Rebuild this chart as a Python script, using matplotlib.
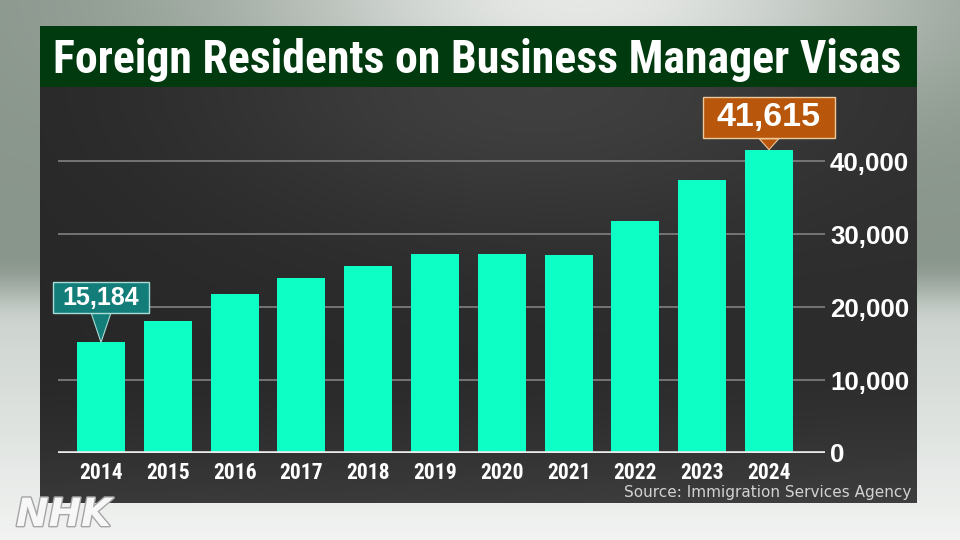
import numpy as np
import matplotlib
matplotlib.use("Agg")
import matplotlib.pyplot as plt
from matplotlib import font_manager as fm
from matplotlib.path import Path
import matplotlib.patheffects as pe

# ---------------- data ----------------
years = ["2014", "2015", "2016", "2017", "2018", "2019", "2020", "2021", "2022", "2023", "2024"]
residents = [15184, 18109, 21877, 24033, 25670, 27249, 27235, 27197, 31808, 37510, 41615]
y_ticks = [0, 10000, 20000, 30000, 40000]
callout_years = ["2014", "2024"]
title = "Foreign Residents on Business Manager Visas"
source = "Source: Immigration Services Agency"

# ---------------- fonts ----------------
names = {f.name for f in fm.fontManager.ttflist}


def pick(cands, default):
    for c in cands:
        if c in names:
            return c
    return default


BOLD = pick(["Liberation Sans", "Arimo"], "DejaVu Sans")
COND = pick(["Roboto Condensed", "Archivo Narrow", "Liberation Sans Narrow", "Barlow Condensed"], BOLD)

W, H = 960, 540
def fx(px): return px / W
def fy(py): return 1 - py / H

fig = plt.figure(figsize=(9.6, 5.4), dpi=100)

# ---------------- studio background ----------------
yy, xx = np.mgrid[0:H, 0:W].astype(float)
c_dark = np.array([0.54, 0.59, 0.55])
c_glow = np.array([0.90, 0.91, 0.90])
glow = np.exp(-((xx - 580) / 330) ** 2) * np.exp(-(yy / 110) ** 2)
upper = c_dark + (c_glow - c_dark) * glow[..., None]
c_floor = np.array([0.78, 0.81, 0.79])
c_bottom = np.array([0.95, 0.955, 0.95])
tb = np.clip((yy - 280) / 260, 0, 1)
lower = c_floor + (c_bottom - c_floor) * tb[..., None]
s = np.clip((yy - 255) / 70, 0, 1)
s = s * s * (3 - 2 * s)
img = upper * (1 - s[..., None]) + lower * s[..., None]
bg_ax = fig.add_axes([0, 0, 1, 1], zorder=0)
bg_ax.imshow(np.clip(img, 0, 1), aspect="auto", extent=[0, W, H, 0], interpolation="bilinear")
bg_ax.set_axis_off()

# ---------------- dark panel ----------------
px0, px1, py0, py1 = 40, 917, 87, 503
pw, ph = px1 - px0, py1 - py0
gy, gx = np.mgrid[0:ph, 0:pw].astype(float)
gx /= pw
gy /= ph
lum = (0.155
       + 0.085 * np.exp(-((gx - 0.55) / 0.38) ** 2 - (gy / 0.35) ** 2)
       + 0.07 * np.clip((gy - 0.65) / 0.35, 0, 1) ** 1.5
       + 0.02 * gx)
panel = np.dstack([lum, lum, lum])
panel_ax = fig.add_axes([fx(px0), fy(py1), pw / W, ph / H], zorder=1)
panel_ax.imshow(np.clip(panel, 0, 1), aspect="auto", interpolation="bilinear")
panel_ax.set_axis_off()

# ---------------- title banner ----------------
banner_ax = fig.add_axes([fx(40), fy(87), (917 - 40) / W, (87 - 26) / H], zorder=2)
banner_ax.set_facecolor("#013a0f")
banner_ax.set_xticks([]); banner_ax.set_yticks([])
for sp in banner_ax.spines.values():
    sp.set_visible(False)

t_title = fig.text(fx(477), fy(73), title, ha="center", va="baseline", color="white",
                   fontsize=32, fontweight="bold", family=COND, zorder=10)

# ---------------- main chart ----------------
ax = fig.add_axes([fx(58), fy(453), 767 / W, 328 / H], zorder=3)
ax.set_facecolor("none")
x = np.arange(len(years))
ax.bar(x, residents, width=0.72, color="#0effc6", zorder=3)
ax.set_xlim(-0.644, 10.838)
ax.set_ylim(0, 45000)

ax.set_yticks(y_ticks)
ax.set_yticklabels([f"{v:,}" for v in y_ticks], family=BOLD, fontweight="bold")
ax.yaxis.tick_right()
ax.tick_params(axis="y", length=0, pad=3.6, labelsize=18.6, labelcolor="white")

ax.set_xticks(x)
ax.set_xticklabels(years, family=COND, fontweight="bold")
ax.tick_params(axis="x", length=0, pad=6.3, labelsize=15.5, labelcolor="white")

ax.grid(axis="y", color="#7a7a7a", lw=1.3, zorder=1)
ax.grid(axis="x", visible=False)
ax.set_axisbelow(True)
ax.axhline(0, color="#ececec", lw=2.6, zorder=4)
for sp in ax.spines.values():
    sp.set_visible(False)


def make_box(padx, pady):
    def box(x0, y0, width, height, mutation_size):
        px = padx * mutation_size
        py = pady * mutation_size
        return Path([(x0 - px, y0 - py), (x0 + width + px, y0 - py),
                     (x0 + width + px, y0 + height + py), (x0 - px, y0 + height + py),
                     (x0 - px, y0 - py)], closed=True)
    return box


callout_styles = [
    dict(fc="#137e79", ec="#a9dcd6", fs=18, dy=44.6, padx=0.37, pady=0.13),
    dict(fc="#b8570b", ec="#efc89a", fs=24.5, dy=32, padx=0.40, pady=0.15),
]
for yr, st in zip(callout_years, callout_styles):
    i = years.index(yr)
    v = residents[i]
    ax.annotate(f"{v:,}", xy=(i, v), xytext=(0, st["dy"]), textcoords="offset pixels",
                ha="center", va="center", fontsize=st["fs"], fontweight="bold",
                family=BOLD, color="white", zorder=8, annotation_clip=False,
                bbox=dict(boxstyle=make_box(st["padx"], st["pady"]), fc=st["fc"],
                          ec=st["ec"], lw=1),
                arrowprops=dict(arrowstyle="wedge,tail_width=0.7,shrink_factor=0.5",
                                fc=st["fc"], ec=st["ec"], lw=0.8, mutation_scale=20,
                                shrinkA=0, shrinkB=0))

# ---------------- source & logo ----------------
t_src = fig.text(fx(911), fy(497), source, ha="right", va="baseline", fontsize=10,
                 color="#d2d2d2", family="DejaVu Sans", zorder=10)

fig.text(fx(16), fy(526), "NHK", ha="left", va="baseline", fontsize=28,
         fontweight="bold", style="italic", color="#f7f7f7", family="DejaVu Sans",
         zorder=10, path_effects=[pe.withStroke(linewidth=2, foreground="#a5a5a5")])

# fit title and source widths
fig.canvas.draw()
r = fig.canvas.get_renderer()
w = t_title.get_window_extent(r).width
t_title.set_fontsize(32 * 850 / w)
w = t_src.get_window_extent(r).width
t_src.set_fontsize(10 * 286 / w)

fig.savefig("out.png", dpi=100)
